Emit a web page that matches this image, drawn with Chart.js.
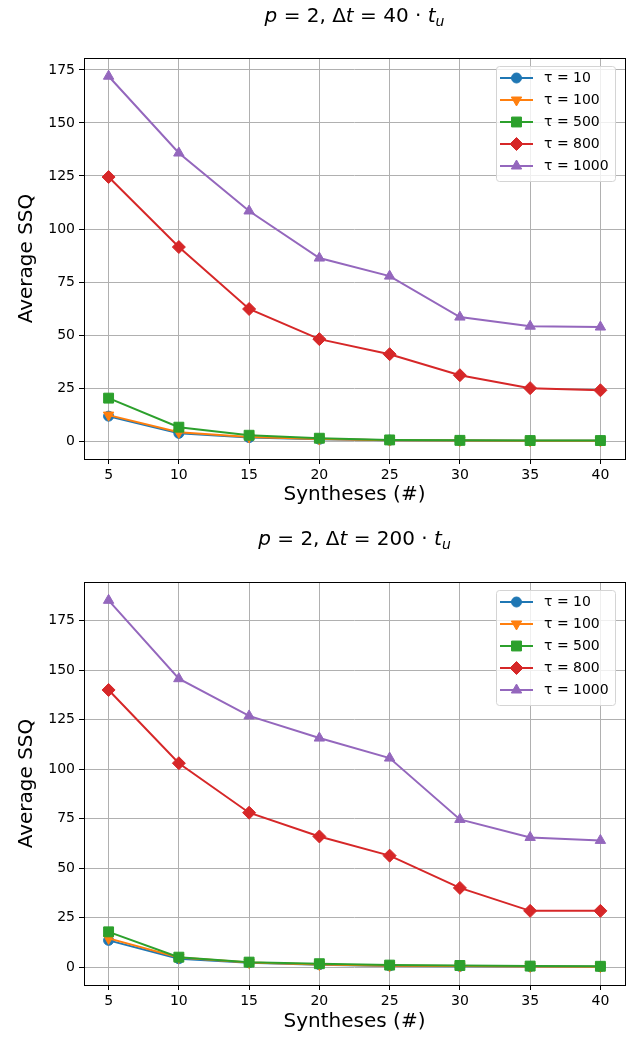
<!DOCTYPE html>
<html>
<head>
<meta charset="utf-8">
<script src="https://cdn.jsdelivr.net/npm/chart.js"></script>
<style>
  body { margin: 0; background: #fff; }
  .panel { position: absolute; left: 0; width: 635px; }
</style>
</head>
<body>
<div class="panel" style="top:0"><canvas id="chartA" width="635" height="523"></canvas></div>
<div class="panel" style="top:523px"><canvas id="chartB" width="635" height="515"></canvas></div>
<script>
const syntheses = [5, 10, 15, 20, 25, 30, 35, 40];
const tauLabels = ['τ = 10', 'τ = 100', 'τ = 500', 'τ = 800', 'τ = 1000'];
const yTicks = [0, 25, 50, 75, 100, 125, 150, 175];

// p = 2, dt = 40 t_u
const a_tau10   = [11.8, 3.7, 1.7, 0.9, 0.5, 0.3, 0.2, 0.2];
const a_tau100  = [12.3, 4.2, 2.0, 1.0, 0.5, 0.3, 0.2, 0.2];
const a_tau500  = [20.3, 6.6, 2.8, 1.4, 0.6, 0.4, 0.3, 0.3];
const a_tau800  = [124.5, 91.5, 62.3, 48.1, 41.0, 31.1, 25.0, 24.0];
const a_tau1000 = [172.0, 135.8, 108.5, 86.3, 77.8, 58.5, 54.2, 53.8];

// p = 2, dt = 200 t_u
const b_tau10   = [13.5, 4.2, 2.2, 1.2, 0.6, 0.4, 0.3, 0.2];
const b_tau100  = [14.5, 4.8, 2.3, 1.3, 0.7, 0.5, 0.3, 0.2];
const b_tau500  = [17.8, 5.0, 2.5, 1.7, 1.0, 0.8, 0.5, 0.4];
const b_tau800  = [140.0, 103.0, 78.0, 66.0, 56.3, 40.0, 28.4, 28.4];
const b_tau1000 = [185.3, 145.7, 126.9, 115.7, 105.6, 74.6, 65.5, 64.0];

const colors = ['#1f77b4', '#ff7f0e', '#2ca02c', '#d62728', '#9467bd'];
const markers = ['circle', 'triangle', 'rect', 'rectRot', 'triangle'];
const markerTurn = [0, 180, 0, 0, 0];
const markerSize = [5, 6, 7, 6.5, 6];

const FONT = '"DejaVu Sans", sans-serif';

const framePlugin = {
  id: 'frame',
  afterDatasetsDraw(chart) {
    const { ctx, chartArea: a } = chart;
    ctx.save();
    ctx.strokeStyle = '#000';
    ctx.lineWidth = 1;
    ctx.strokeRect(Math.round(a.left) + 0.5, Math.round(a.top) + 0.5,
      Math.round(a.right - a.left), Math.round(a.bottom - a.top));
    ctx.restore();
  }
};

const legendPlugin = {
  id: 'boxLegend',
  afterDraw(chart) {
    const { ctx, chartArea: a } = chart;
    const sets = chart.data.datasets;
    const w = 119, rowH = 22, h = sets.length * rowH + 5;
    const x0 = Math.round(a.right) - 10 - w, y0 = Math.round(a.top) + 8;
    ctx.save();
    ctx.beginPath();
    ctx.roundRect(x0 + 0.5, y0 + 0.5, w, h, 3);
    ctx.fillStyle = 'rgba(255,255,255,0.8)';
    ctx.fill();
    ctx.strokeStyle = '#d4d4d4';
    ctx.lineWidth = 1;
    ctx.stroke();
    sets.forEach((ds, i) => {
      const y = y0 + 12 + i * rowH;
      ctx.strokeStyle = ds.borderColor;
      ctx.lineWidth = 2;
      ctx.beginPath();
      ctx.moveTo(x0 + 4, y);
      ctx.lineTo(x0 + 37, y);
      ctx.stroke();
      ctx.lineWidth = 1;
      ctx.fillStyle = ds.borderColor;
      Chart.helpers.drawPoint(ctx, {
        pointStyle: ds.pointStyle, rotation: ds.pointRotation, radius: ds.pointRadius, borderWidth: 1
      }, x0 + 20.5, y);
      ctx.fillStyle = '#000';
      ctx.font = '14px ' + FONT;
      ctx.textBaseline = 'middle';
      ctx.textAlign = 'left';
      ctx.fillText(ds.label, x0 + 48, y);
    });
    ctx.restore();
  }
};

// title with italic math letters and a subscript
const titlePlugin = {
  id: 'mathTitle',
  afterDraw(chart) {
    const segs = chart.options.plugins.mathTitle.segments;
    const { ctx, chartArea: a } = chart;
    const fontFor = s => (s.i ? 'italic ' : '') + (s.sub ? '14px ' : '20px ') + FONT;
    ctx.save();
    let total = 0;
    segs.forEach(s => { ctx.font = fontFor(s); total += ctx.measureText(s.s).width; });
    let x = (a.left + a.right) / 2 - total / 2;
    const y = 17;
    ctx.fillStyle = '#000';
    ctx.textBaseline = 'middle';
    ctx.textAlign = 'left';
    segs.forEach(s => {
      ctx.font = fontFor(s);
      ctx.fillText(s.s, x, s.sub ? y + 5 : y);
      x += ctx.measureText(s.s).width;
    });
    ctx.restore();
  }
};

function mathSegments(dt) {
  return [
    { s: 'p', i: true }, { s: ' = 2, Δ' }, { s: 't', i: true },
    { s: ' = ' + dt + ' · ' }, { s: 't', i: true }, { s: 'u', i: true, sub: true }
  ];
}

function makeChart(id, dt, series, plotTop, xAxisH, xTitlePad) {
  const all = series.flat();
  const hi = Math.max(...all), lo = Math.min(...all);
  const m = 0.05 * (hi - lo);
  const datasets = series.map((vals, k) => ({
    label: tauLabels[k],
    data: vals.map((v, j) => ({ x: syntheses[j], y: v })),
    borderColor: colors[k],
    backgroundColor: colors[k],
    borderWidth: 2,
    pointStyle: markers[k],
    pointRotation: markerTurn[k],
    pointRadius: markerSize[k],
    pointBorderWidth: 1,
    pointHoverRadius: markerSize[k],
    tension: 0,
    order: series.length - k
  }));

  new Chart(document.getElementById(id), {
    type: 'line',
    data: { datasets },
    options: {
      responsive: false,
      animation: false,
      layout: { padding: { top: plotTop, right: 10, left: 0, bottom: 0 } },
      plugins: {
        legend: { display: false },
        tooltip: { enabled: false },
        mathTitle: { segments: mathSegments(dt) }
      },
      scales: {
        x: {
          type: 'linear',
          min: 3.25,
          max: 41.75,
          afterBuildTicks: s => { s.ticks = syntheses.map(v => ({ value: v })); },
          afterFit: s => { s.height = xAxisH; },
          ticks: { color: '#000', font: { family: FONT, size: 14 }, padding: 3, maxRotation: 0 },
          grid: { color: '#b0b0b0', lineWidth: 1, tickColor: '#000', tickLength: 5 },
          border: { display: false },
          title: {
            display: true, text: 'Syntheses (#)', color: '#000',
            font: { family: FONT, size: 20 }, padding: { top: 0, bottom: xTitlePad }
          }
        },
        y: {
          min: lo - m,
          max: hi + m,
          afterBuildTicks: s => { s.ticks = yTicks.map(v => ({ value: v })); },
          afterFit: s => { s.width = 84; },
          ticks: { color: '#000', font: { family: FONT, size: 14 }, padding: 4 },
          grid: { color: '#b0b0b0', lineWidth: 1, tickColor: '#000', tickLength: 5 },
          border: { display: false },
          title: {
            display: true, text: 'Average SSQ', color: '#000',
            font: { family: FONT, size: 20 }, padding: { top: 15, bottom: 0 }
          }
        }
      }
    },
    plugins: [framePlugin, legendPlugin, titlePlugin]
  });
}

makeChart('chartA', 40, [a_tau10, a_tau100, a_tau500, a_tau800, a_tau1000], 58, 64, 16);
makeChart('chartB', 200, [b_tau10, b_tau100, b_tau500, b_tau800, b_tau1000], 59, 53, 4);
</script>
</body>
</html>
